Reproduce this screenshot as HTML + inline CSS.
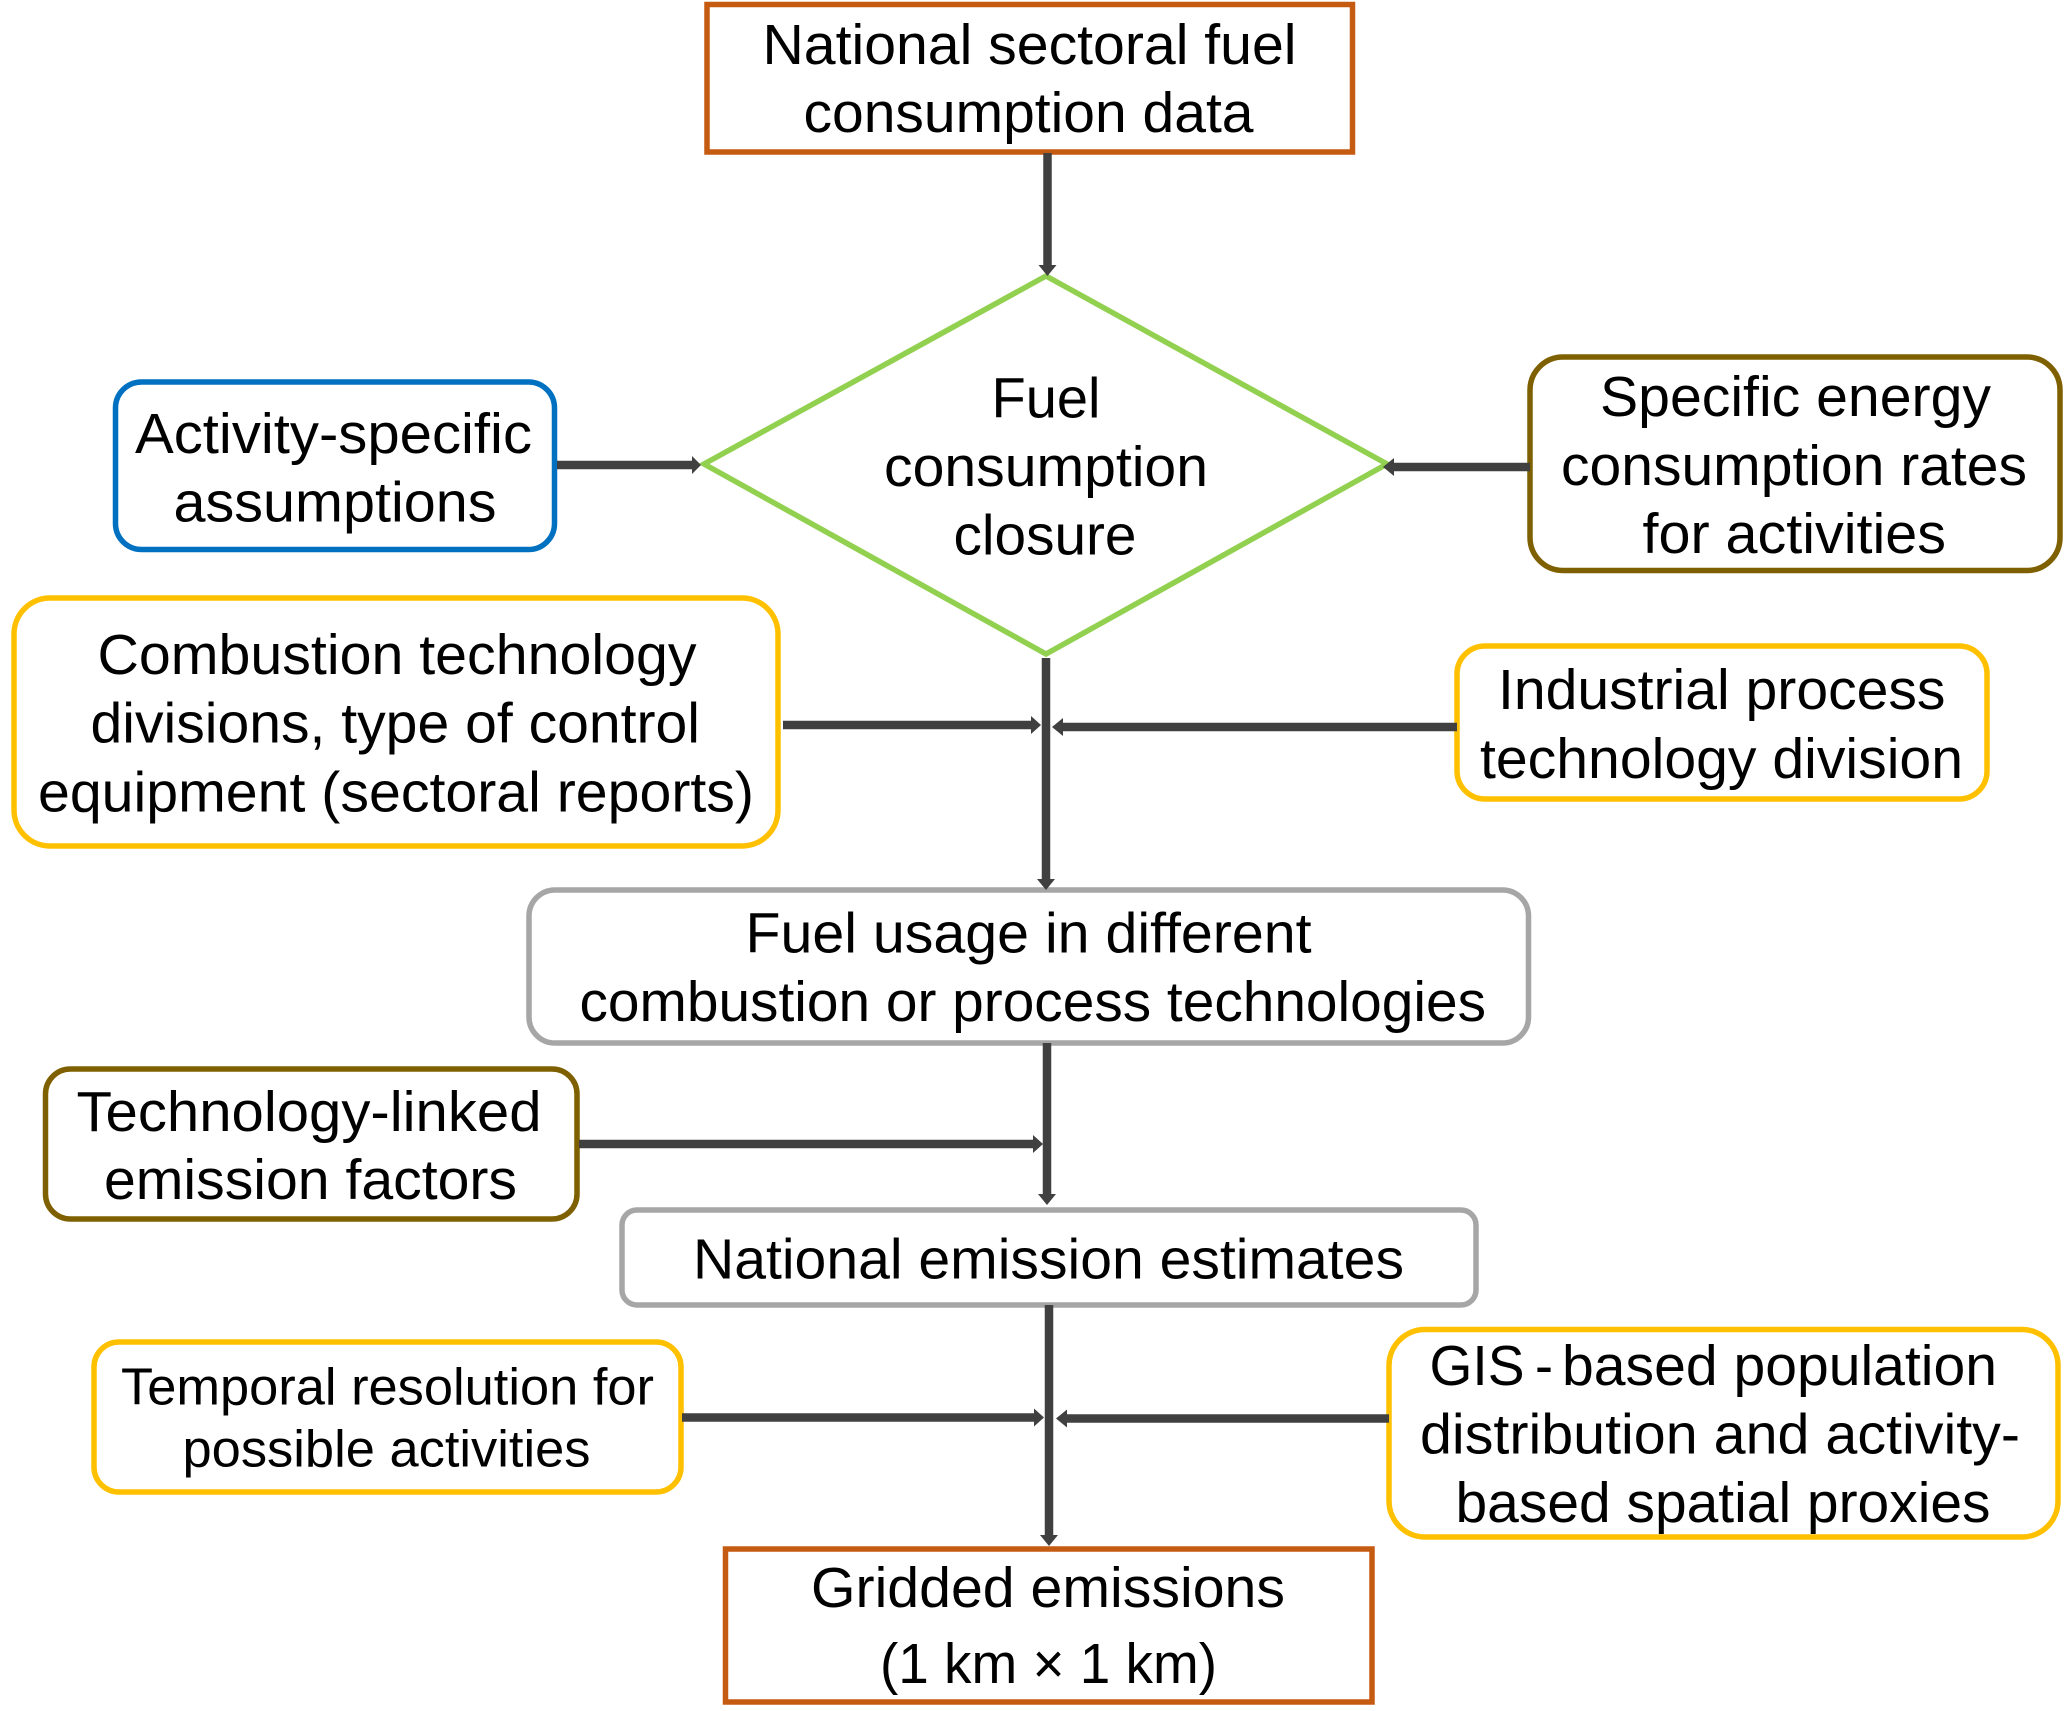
<!DOCTYPE html>
<html><head><meta charset="utf-8"><style>
html,body{margin:0;padding:0;background:#fff}
svg{display:block}
text{font-family:"Liberation Sans",Arial,sans-serif;font-size:57px;fill:#000}
.s{font-size:52px}
</style></head><body>
<svg width="2067" height="1711" viewBox="0 0 2067 1711" xmlns="http://www.w3.org/2000/svg">
<rect width="2067" height="1711" fill="#fff"/>
<g fill="none" stroke-width="5.5">
<rect x="707" y="4.5" width="645.5" height="147.5" stroke="#c55a11"/>
<rect x="725.5" y="1549" width="646.5" height="153" stroke="#c55a11"/>
<polygon points="704,464 1046,276 1387,464 1046,654" stroke="#92d050"/>
<rect x="115.5" y="382" width="439" height="167.5" rx="26" stroke="#0070c0"/>
<rect x="1530" y="357" width="530" height="213.5" rx="33" stroke="#7f6000"/>
<rect x="14" y="598" width="764" height="248" rx="36" stroke="#ffc000"/>
<rect x="1457" y="646" width="530" height="153" rx="28" stroke="#ffc000"/>
<rect x="529" y="890" width="999.5" height="153" rx="26" stroke="#a6a6a6"/>
<rect x="45.5" y="1069" width="531.5" height="150" rx="25" stroke="#7f6000"/>
<rect x="622" y="1210" width="854" height="95" rx="15" stroke="#a6a6a6"/>
<rect x="94" y="1342" width="587" height="150" rx="25" stroke="#ffc000"/>
<rect x="1389" y="1329.5" width="669" height="207.5" rx="36" stroke="#ffc000"/>
</g>
<g stroke="#404040" stroke-width="8.5" fill="none">
<line x1="1047.5" y1="153" x2="1047.5" y2="268"/>
<line x1="557" y1="465" x2="695" y2="465"/>
<line x1="1530" y1="467" x2="1390" y2="467"/>
<line x1="783" y1="725" x2="1034" y2="725"/>
<line x1="1457" y1="727" x2="1059" y2="727"/>
<line x1="1046" y1="658" x2="1046" y2="882"/>
<line x1="1047" y1="1043" x2="1047" y2="1197"/>
<line x1="579" y1="1144" x2="1036" y2="1144"/>
<line x1="1049" y1="1305" x2="1049" y2="1538"/>
<line x1="682" y1="1417.5" x2="1037" y2="1417.5"/>
<line x1="1389" y1="1418.5" x2="1063" y2="1418.5"/>
</g>
<g fill="#404040">
<polygon points="1038.5,265 1056.5,265 1047.5,276"/>
<polygon points="692,456 692,474 701,465"/>
<polygon points="1394,458 1394,476 1383,467"/>
<polygon points="1031,716 1031,734 1041,725"/>
<polygon points="1063,718 1063,736 1052,727"/>
<polygon points="1037,879 1055,879 1046,890"/>
<polygon points="1038,1194 1056,1194 1047,1205"/>
<polygon points="1033,1135 1033,1153 1043,1144"/>
<polygon points="1040,1535 1058,1535 1049,1546"/>
<polygon points="1034,1408.5 1034,1426.5 1044,1417.5"/>
<polygon points="1067,1409.5 1067,1427.5 1056,1418.5"/>
</g>
<g>
<text x="762.5" y="64" textLength="534" lengthAdjust="spacingAndGlyphs">National sectoral fuel</text>
<text x="803.5" y="132" textLength="450" lengthAdjust="spacingAndGlyphs">consumption data</text>
<text x="991.5" y="417.5" textLength="109" lengthAdjust="spacingAndGlyphs">Fuel</text>
<text x="884" y="486" textLength="324" lengthAdjust="spacingAndGlyphs">consumption</text>
<text x="953.5" y="554.5" textLength="183" lengthAdjust="spacingAndGlyphs">closure</text>
<text x="135" y="453" textLength="397" lengthAdjust="spacingAndGlyphs">Activity-specific</text>
<text x="173.5" y="521.5" textLength="323" lengthAdjust="spacingAndGlyphs">assumptions</text>
<text x="1600" y="416" textLength="391" lengthAdjust="spacingAndGlyphs">Specific energy</text>
<text x="1561" y="485" textLength="466" lengthAdjust="spacingAndGlyphs">consumption rates</text>
<text x="1642.5" y="553" textLength="303.5" lengthAdjust="spacingAndGlyphs">for activities</text>
<text x="97.5" y="674" textLength="599" lengthAdjust="spacingAndGlyphs">Combustion technology</text>
<text x="90.5" y="742.5" textLength="609.5" lengthAdjust="spacingAndGlyphs">divisions, type of control</text>
<text x="38" y="811.5" textLength="716" lengthAdjust="spacingAndGlyphs">equipment (sectoral reports)</text>
<text x="1498" y="709" textLength="447.5" lengthAdjust="spacingAndGlyphs">Industrial process</text>
<text x="1480" y="778" textLength="483" lengthAdjust="spacingAndGlyphs">technology division</text>
<text x="745.5" y="952.5" textLength="566" lengthAdjust="spacingAndGlyphs">Fuel usage in different</text>
<text x="579.5" y="1021" textLength="906.5" lengthAdjust="spacingAndGlyphs">combustion or process technologies</text>
<text x="76.5" y="1131" textLength="465" lengthAdjust="spacingAndGlyphs">Technology-linked</text>
<text x="104" y="1199" textLength="413" lengthAdjust="spacingAndGlyphs">emission factors</text>
<text x="693" y="1278.5" textLength="711" lengthAdjust="spacingAndGlyphs">National emission estimates</text>
<text class="s" x="121" y="1404.5" textLength="533" lengthAdjust="spacingAndGlyphs">Temporal resolution for</text>
<text class="s" x="182.5" y="1466.5" textLength="408" lengthAdjust="spacingAndGlyphs">possible activities</text>
<text x="1429.5" y="1385" textLength="95" lengthAdjust="spacingAndGlyphs">GIS</text>
<text x="1535" y="1385" textLength="18" lengthAdjust="spacingAndGlyphs">-</text>
<text x="1562" y="1385" textLength="435" lengthAdjust="spacingAndGlyphs">based population</text>
<text x="1420" y="1453.5" textLength="600" lengthAdjust="spacingAndGlyphs">distribution and activity-</text>
<text x="1455.5" y="1522" textLength="535" lengthAdjust="spacingAndGlyphs">based spatial proxies</text>
<text x="811" y="1607" textLength="474" lengthAdjust="spacingAndGlyphs">Gridded emissions</text>
<text x="880" y="1683" textLength="337" lengthAdjust="spacingAndGlyphs">(1 km × 1 km)</text>
</g>
</svg>
</body></html>
